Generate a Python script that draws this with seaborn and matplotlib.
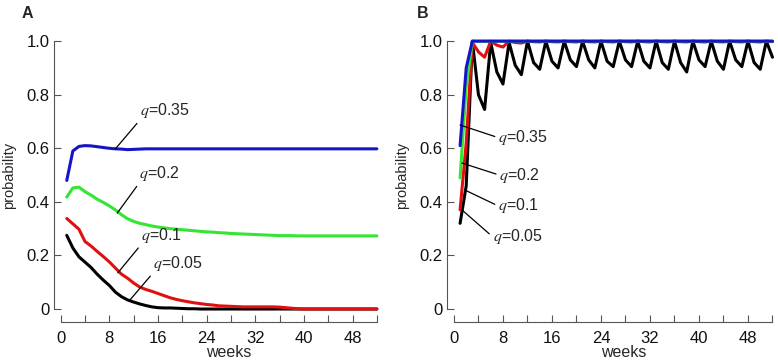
import numpy as np
import pandas as pd
import matplotlib
matplotlib.use("Agg")
import matplotlib.pyplot as plt
import seaborn as sns

weeks = list(range(1, 53))

# Panel A
a_q035 = [0.48, 0.59, 0.607, 0.61, 0.609, 0.606, 0.603, 0.600, 0.598, 0.597, 0.595, 0.596, 0.597] + [0.598] * 39
a_q02 = [0.418, 0.452, 0.455, 0.438, 0.425, 0.410, 0.398, 0.385, 0.370, 0.352, 0.337, 0.327, 0.320,
         0.315, 0.310, 0.306, 0.303, 0.300, 0.298, 0.296, 0.294, 0.292, 0.290, 0.288, 0.287, 0.285,
         0.284, 0.282, 0.281, 0.280, 0.279, 0.278, 0.277, 0.276, 0.275, 0.274, 0.274, 0.274, 0.273,
         0.273, 0.273, 0.273, 0.273, 0.273, 0.273, 0.273, 0.273, 0.273, 0.273, 0.273, 0.273, 0.273]
a_q01 = [0.338, 0.318, 0.298, 0.252, 0.235, 0.215, 0.196, 0.176, 0.153, 0.130, 0.115, 0.097, 0.082,
         0.073, 0.066, 0.058, 0.050, 0.042, 0.036, 0.031, 0.027, 0.023, 0.020, 0.017, 0.015, 0.012,
         0.011, 0.010, 0.009, 0.008, 0.008, 0.008, 0.008, 0.008, 0.008, 0.007, 0.005, 0.003, 0.001] + [0.0] * 13
a_q005 = [0.275, 0.228, 0.195, 0.175, 0.155, 0.130, 0.108, 0.088, 0.063, 0.046, 0.034, 0.026, 0.019,
          0.013, 0.008, 0.005, 0.004, 0.004, 0.003, 0.002, 0.001, 0.001] + [0.0] * 30

# Panel B
b_q035 = [0.61, 0.90] + [1.0] * 50
b_q02 = [0.49, 0.83] + [1.0] * 50
b_q01 = [0.37, 0.62, 0.995, 0.96, 0.94, 1.0, 0.985, 0.978, 1.0, 0.995, 0.993, 1.0] + [0.998, 0.997, 1.0] * 13 + [0.998]
b_q005 = [0.32, 0.46, 1.0, 0.80, 0.745, 0.995, 0.885, 0.84, 0.995, 0.91, 0.875, 1.0, 0.92, 0.895,
          1.0, 0.925, 0.90, 1.0, 0.93, 0.905, 1.0, 0.93, 0.90, 1.0, 0.925, 0.905, 1.0, 0.93, 0.905,
          1.0, 0.925, 0.90, 1.0, 0.92, 0.895, 1.0, 0.92, 0.885, 1.0, 0.93, 0.905, 1.0, 0.925, 0.895,
          1.0, 0.93, 0.905, 1.0, 0.92, 0.895, 1.0, 0.94]

q_labels = ["q=0.05", "q=0.1", "q=0.2", "q=0.35"]
colors = {"q=0.05": "#000000", "q=0.1": "#e01010", "q=0.2": "#33e633", "q=0.35": "#1414c8"}

def make_df(series):
    rows = []
    for lab, vals in zip(q_labels, series):
        for w, v in zip(weeks, vals):
            rows.append({"weeks": w, "probability": v, "q": lab})
    return pd.DataFrame(rows)

dfA = make_df([a_q005, a_q01, a_q02, a_q035])
dfB = make_df([b_q005, b_q01, b_q02, b_q035])

sns.set_style("ticks")
plt.rcParams["font.family"] = ["Liberation Sans", "DejaVu Sans"]
plt.rcParams["mathtext.fontset"] = "stix"
plt.rcParams["axes.edgecolor"] = "#555555"
plt.rcParams["xtick.color"] = "#555555"
plt.rcParams["ytick.color"] = "#555555"
plt.rcParams["xtick.labelcolor"] = "#111111"
plt.rcParams["ytick.labelcolor"] = "#111111"

fig = plt.figure(figsize=(7.78, 3.61), dpi=100)
axA = fig.add_axes([0.078, 0.144, 0.4064, 0.742])
axB = fig.add_axes([0.5835, 0.144, 0.4094, 0.742])

FS = 12
AFS = 11.5
for ax, df in ((axA, dfA), (axB, dfB)):
    sns.lineplot(data=df, x="weeks", y="probability", hue="q", hue_order=q_labels,
                 palette=colors, linewidth=2.2, legend=False, ax=ax, clip_on=False)
    ax.set_xlim(0, 52)
    ax.set_ylim(0, 1.0)
    ax.set_xticks([0, 8, 16, 24, 32, 40, 48])
    ax.set_xticks([4, 12, 20, 28, 36, 44, 52], minor=True)
    ax.set_yticks([0, 0.2, 0.4, 0.6, 0.8, 1.0])
    ax.set_yticklabels(["0", "0.2", "0.4", "0.6", "0.8", "1.0"])
    ax.tick_params(axis="both", which="both", direction="in", length=5, width=0.8, labelsize=FS)
    ax.tick_params(axis="x", which="both", pad=7)
    ax.tick_params(axis="y", pad=3)
    sns.despine(ax=ax)
    ax.spines["left"].set_position(("outward", 5))
    ax.spines["bottom"].set_position(("outward", 9))
    ax.spines["left"].set_bounds(0, 1.0)
    ax.spines["bottom"].set_bounds(0, 52)
    ax.spines["left"].set_linewidth(0.8)
    ax.spines["bottom"].set_linewidth(0.8)
    ax.set_xlabel("weeks", fontsize=AFS)
    ax.set_ylabel("probability", fontsize=10.5)
    ax.xaxis.set_label_coords(0.532, -0.135)
    ax.yaxis.set_label_coords(-0.142, 0.5)

fig.text(22 / 778, 1 - 6 / 361, "A", fontsize=11.5, fontweight="bold", va="top", ha="left")
fig.text(417 / 778, 1 - 6 / 361, "B", fontsize=11.5, fontweight="bold", va="top", ha="left")

def lab(txt):
    return r"$q$" + txt

ann = dict(arrowstyle="-", color="black", lw=0.9, shrinkA=0, shrinkB=0)

# Panel A labels
axA.annotate(lab("=0.35"), xy=(9, a_q035[8]), xytext=(13.0, 0.705), fontsize=AFS,
             ha="left", va="bottom", arrowprops=dict(ann, relpos=(0, 0)))
axA.annotate(lab("=0.2"), xy=(9.3, 0.358), xytext=(12.9, 0.47), fontsize=AFS,
             ha="left", va="bottom", arrowprops=dict(ann, relpos=(0, 0)))
axA.annotate(lab("=0.1"), xy=(9.4, 0.135), xytext=(13.2, 0.24), fontsize=AFS,
             ha="left", va="bottom", arrowprops=dict(ann, relpos=(0, 0)))
axA.annotate(lab("=0.05"), xy=(11.4, 0.034), xytext=(15.2, 0.135), fontsize=AFS,
             ha="left", va="bottom", arrowprops=dict(ann, relpos=(0, 0)))

# Panel B labels
axB.annotate(lab("=0.35"), xy=(1.0, 0.687), xytext=(7.2, 0.64), fontsize=AFS,
             ha="left", va="center", arrowprops=dict(ann, relpos=(0, 0.5)))
axB.annotate(lab("=0.2"), xy=(1.3, 0.545), xytext=(7.4, 0.50), fontsize=AFS,
             ha="left", va="center", arrowprops=dict(ann, relpos=(0, 0.5)))
axB.annotate(lab("=0.1"), xy=(1.8, 0.444), xytext=(7.2, 0.385), fontsize=AFS,
             ha="left", va="center", arrowprops=dict(ann, relpos=(0, 0.5)))
axB.annotate(lab("=0.05"), xy=(1.3, 0.37), xytext=(6.3, 0.27), fontsize=AFS,
             ha="left", va="center", arrowprops=dict(ann, relpos=(0, 0.5)))

fig.savefig("out.png", dpi=100)
